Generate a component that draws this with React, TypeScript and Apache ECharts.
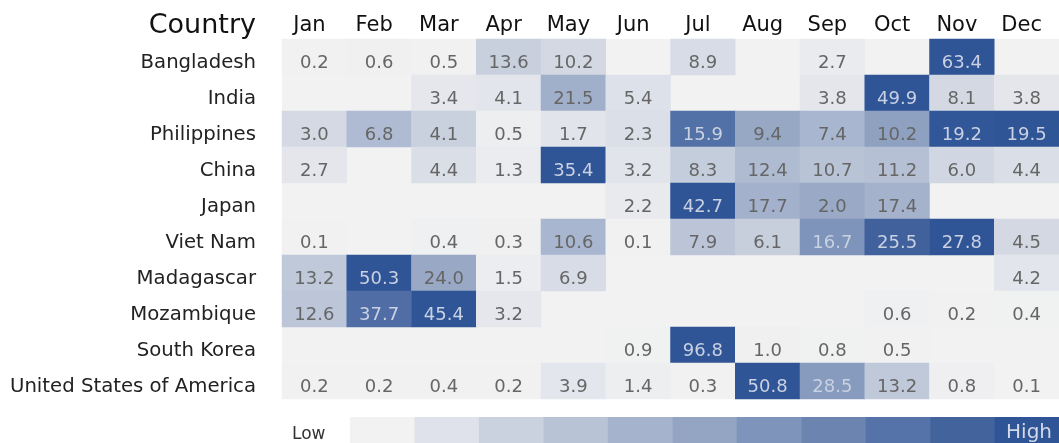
import React, { useEffect, useRef } from "react";
import * as echarts from "echarts";

const months = ["Jan", "Feb", "Mar", "Apr", "May", "Jun", "Jul", "Aug", "Sep", "Oct", "Nov", "Dec"];
const countries = [
  "Bangladesh",
  "India",
  "Philippines",
  "China",
  "Japan",
  "Viet Nam",
  "Madagascar",
  "Mozambique",
  "South Korea",
  "United States of America",
];

const bangladesh = [0.2, 0.6, 0.5, 13.6, 10.2, null, 8.9, null, 2.7, null, 63.4, null];
const india = [null, null, 3.4, 4.1, 21.5, 5.4, null, null, 3.8, 49.9, 8.1, 3.8];
const philippines = [3.0, 6.8, 4.1, 0.5, 1.7, 2.3, 15.9, 9.4, 7.4, 10.2, 19.2, 19.5];
const china = [2.7, null, 4.4, 1.3, 35.4, 3.2, 8.3, 12.4, 10.7, 11.2, 6.0, 4.4];
const japan = [null, null, null, null, null, 2.2, 42.7, 17.7, 2.0, 17.4, null, null];
const vietNam = [0.1, null, 0.4, 0.3, 10.6, 0.1, 7.9, 6.1, 16.7, 25.5, 27.8, 4.5];
const madagascar = [13.2, 50.3, 24.0, 1.5, 6.9, null, null, null, null, null, null, 4.2];
const mozambique = [12.6, 37.7, 45.4, 3.2, null, null, null, null, null, 0.6, 0.2, 0.4];
const southKorea = [null, null, null, null, null, 0.9, 96.8, 1.0, 0.8, 0.5, null, null];
const usa = [0.2, 0.2, 0.4, 0.2, 3.9, 1.4, 0.3, 50.8, 28.5, 13.2, 0.8, 0.1];

const rows = [bangladesh, india, philippines, china, japan, vietNam, madagascar, mozambique, southKorea, usa];

const shadeOverrides = [{ country: "Japan", month: "Sep", shade: 20.0 }];

const palette = [
  "#f2f2f2",
  "#dfe2ea",
  "#cbd2df",
  "#b8c3d6",
  "#a5b3cd",
  "#94a5c3",
  "#7f94bb",
  "#6c84b0",
  "#5573a8",
  "#43639d",
  "#2f5597",
];

const FONT = "DejaVu Sans";

export default function App() {
  const ref = useRef<HTMLDivElement>(null);

  useEffect(() => {
    if (!ref.current) return;
    const chart = echarts.init(ref.current, null, { renderer: "svg" });

    const data: any[] = [];
    rows.forEach((row, ci) => {
      const vals = row.filter((v) => v !== null) as number[];
      const rowMax = Math.max(...vals);
      row.forEach((v, mi) => {
        if (v === null) return;
        const ov = shadeOverrides.find((o) => o.country === countries[ci] && o.month === months[mi]);
        const shadeVal = ov ? ov.shade : v;
        const t = shadeVal / rowMax;
        data.push({
          value: [mi, ci, v, t],
          label: { color: t >= 0.55 ? "#c9d1e2" : "#666666" },
        });
      });
    });

    const legendLeft = 350;
    const legendW = (1059 - legendLeft) / palette.length;
    const legendRects = palette.map((c, i) => ({
      type: "rect",
      shape: { x: legendLeft + i * legendW, y: 417, width: legendW + 0.5, height: 26 },
      style: { fill: c },
      silent: true,
    }));

    chart.setOption({
      animation: false,
      textStyle: { fontFamily: FONT },
      grid: {
        left: 282,
        right: -5,
        top: 39,
        bottom: 44,
        show: true,
        backgroundColor: "#f2f2f2",
        borderWidth: 0,
      },
      xAxis: {
        type: "category",
        position: "top",
        data: months,
        axisLine: { show: false },
        axisTick: { show: false },
        splitLine: { show: false },
        axisLabel: {
          fontSize: 21,
          color: "#111111",
          margin: 5,
          fontFamily: FONT,
          padding: [0, 10, 0, 0],
        },
      },
      yAxis: {
        type: "category",
        data: countries,
        inverse: true,
        axisLine: { show: false },
        axisTick: { show: false },
        splitLine: { show: false },
        axisLabel: {
          fontSize: 19.7,
          color: "#222222",
          margin: 26,
          fontFamily: FONT,
          verticalAlign: "top",
          lineHeight: 8,
        },
      },
      visualMap: {
        type: "continuous",
        show: false,
        dimension: 3,
        min: 0,
        max: 1,
        inRange: { color: palette },
      },
      series: [
        {
          type: "heatmap",
          data,
          label: {
            show: true,
            fontSize: 18,
            fontFamily: FONT,
            offset: [0, 4],
            formatter: (p: any) => Number(p.value[2]).toFixed(1),
          },
          emphasis: { disabled: true },
          itemStyle: { borderWidth: 0 },
        },
      ],
      graphic: [
        {
          type: "text",
          x: 256,
          y: 23,
          style: {
            text: "Country",
            fontSize: 27,
            fill: "#111111",
            fontFamily: FONT,
            align: "right",
            verticalAlign: "middle",
          },
        },
        ...legendRects,
        {
          type: "text",
          x: 292,
          y: 433,
          style: {
            text: "Low",
            fontSize: 17,
            fill: "#333333",
            fontFamily: FONT,
            align: "left",
            verticalAlign: "middle",
          },
        },
        {
          type: "text",
          x: 1052,
          y: 431,
          style: {
            text: "High",
            fontSize: 20,
            fill: "#d3d9e6",
            fontFamily: FONT,
            align: "right",
            verticalAlign: "middle",
          },
        },
      ],
    });

    return () => chart.dispose();
  }, []);

  return (
    <div
      ref={ref}
      style={{ position: "fixed", left: 0, top: 0, width: 1059, height: 443 }}
    />
  );
}
